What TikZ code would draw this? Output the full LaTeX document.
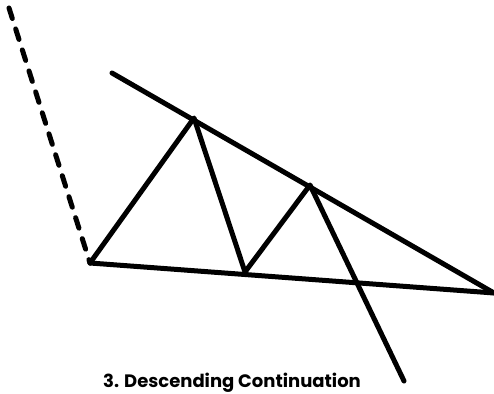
\documentclass[tikz,border=0pt]{standalone}
\usepackage{fontspec}
\setmainfont{Poppins}
\begin{document}
\begin{tikzpicture}[x=1pt,y=-1pt,
  ln/.style={line width=5pt,line cap=round,line join=round},
  dsh/.style={line width=5pt,line cap=round,dash pattern=on 11pt off 11pt}]
\useasboundingbox (0,0) rectangle (494,393);
\coordinate (d0) at (9,8);
\coordinate (a) at (90,263);
\coordinate (b) at (494,293);
\coordinate (t0) at (112,73);
\coordinate (p1) at (194,118);
\coordinate (v1) at (245,272);
\coordinate (p2) at (310,185);
\coordinate (e) at (404,381);
\draw[dsh] (d0) -- (a);
\draw[ln] (a) -- (b);
\draw[ln] (t0) -- (b);
\draw[ln] (a) -- (p1) -- (v1) -- (p2) -- (e);
\node[font=\bfseries\fontsize{18}{20}\selectfont,anchor=base] (lbl) at (232,387) {3. Descending Continuation};
\end{tikzpicture}
\end{document}
